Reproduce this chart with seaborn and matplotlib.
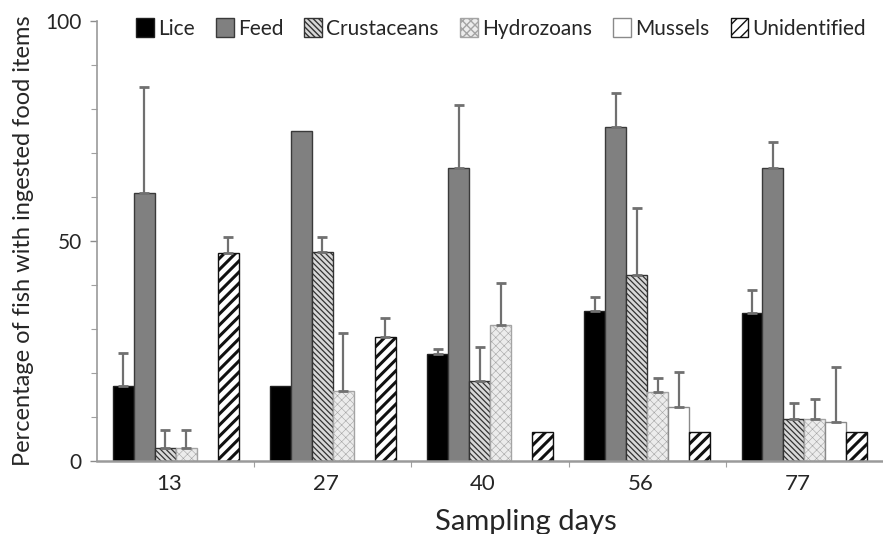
import numpy as np
import pandas as pd
import matplotlib
matplotlib.use("Agg")
import matplotlib.pyplot as plt
import matplotlib.patches as mpatches
import matplotlib.transforms as mtransforms
from matplotlib.ticker import MultipleLocator, FixedLocator
import seaborn as sns

# Sampling days and ingested food categories
days = ["13", "27", "40", "56", "77"]
items = ["Lice", "Feed", "Crustaceans", "Hydrozoans", "Mussels", "Unidentified"]

# Percentage of fish with each item (mean) and upper error
lice = [17.0, 17.0, 24.3, 34.0, 33.6]
feed = [61.0, 75.0, 66.6, 76.0, 66.6]
crustaceans = [3.0, 47.5, 18.2, 42.3, 9.5]
hydrozoans = [3.0, 16.0, 31.0, 15.7, 9.5]
mussels = [0.0, 0.0, 0.0, 12.3, 8.9]
unidentified = [47.3, 28.2, 6.6, 6.6, 6.6]

lice_err = [7.5, 0.0, 1.2, 3.3, 5.3]
feed_err = [24.0, 0.0, 14.4, 7.6, 6.0]
crustaceans_err = [4.0, 3.5, 7.8, 15.2, 3.7]
hydrozoans_err = [4.0, 13.0, 9.5, 3.2, 4.5]
mussels_err = [0.0, 0.0, 0.0, 7.9, 12.5]
unidentified_err = [3.7, 4.3, 0.0, 0.0, 0.0]

values = [lice, feed, crustaceans, hydrozoans, mussels, unidentified]
errors = [lice_err, feed_err, crustaceans_err, hydrozoans_err, mussels_err, unidentified_err]

df = pd.DataFrame(
    [(d, it, v) for it, vals in zip(items, values) for d, v in zip(days, vals)],
    columns=["day", "item", "pct"],
)

# face colour, edge/hatch colour, hatch pattern, hatch width
styles = {
    "Lice": ("#000000", "#202020", None, 1.0),
    "Feed": ("#808080", "#3a3a3a", None, 1.0),
    "Crustaceans": ("#d8d8d8", "#333333", "\\\\\\\\\\\\", 0.9),
    "Hydrozoans": ("#ececec", "#a4a4a4", "xxxx", 0.4),
    "Mussels": ("#ffffff", "#8a8a8a", None, 1.0),
    "Unidentified": ("#ffffff", "#111111", "///", 2.2),
}

sns.set_style("white")
plt.rcParams["font.family"] = ["Lato", "DejaVu Sans"]
plt.rcParams["hatch.linewidth"] = 1.0

fig = plt.figure(figsize=(8.83, 5.34), dpi=100)
ax = fig.add_axes([0.110, 0.1367, 0.890, 0.824])

sns.barplot(data=df, x="day", y="pct", hue="item", order=days, hue_order=items,
            palette=["#000000"] * 6, width=0.8, errorbar=None, legend=False, ax=ax)


def style_patch(p, item):
    fc, ec, hatch, hlw = styles[item]
    p.set_facecolor(fc)
    p.set_edgecolor(ec)
    p.set_linewidth(1.0)
    if hatch:
        p.set_hatch(hatch)
        if hasattr(p, "set_hatch_linewidth"):
            p.set_hatch_linewidth(hlw)


for item, cont, errs in zip(items, ax.containers, errors):
    xs, tops, es = [], [], []
    for bar, e in zip(cont, errs):
        style_patch(bar, item)
        if bar.get_height() == 0:
            bar.set_linewidth(0)
        if e > 0:
            xs.append(bar.get_x() + bar.get_width() / 2)
            tops.append(bar.get_height())
            es.append(e)
    if xs:
        ax.errorbar(xs, tops, yerr=[np.zeros(len(es)), es], fmt="none",
                    ecolor="#707070", elinewidth=1.6, capsize=3.5, capthick=2.0,
                    zorder=1)

# Axes
ax.set_ylim(0, 100)
ax.set_xlim(-0.5, len(days) - 0.5)
ax.set_yticks([0, 50, 100])
ax.yaxis.set_minor_locator(MultipleLocator(10))
ax.tick_params(axis="y", which="major", left=True, length=5, width=1,
               color="#8c8c8c", labelsize=15, pad=6)
ax.tick_params(axis="y", which="minor", left=True, length=4, width=0.8,
               color="#a0a0a0")
ax.set_xticks(range(len(days)))
ax.set_xticklabels(days)
ax.xaxis.set_minor_locator(FixedLocator(np.arange(0.5, len(days) - 0.5, 1)))
ax.tick_params(axis="x", which="major", bottom=False, labelsize=16, pad=6)
ax.tick_params(axis="x", which="minor", bottom=True, length=4, width=0.8,
               color="#a0a0a0")
for lab in ax.get_xticklabels():
    lab.set_transform(lab.get_transform() +
                      mtransforms.ScaledTranslation(-7 / 100, 0, fig.dpi_scale_trans))

for side in ["top", "right"]:
    ax.spines[side].set_visible(False)
ax.spines["left"].set_color("#9a9a9a")
ax.spines["left"].set_linewidth(1.2)
ax.spines["bottom"].set_color("#9a9a9a")
ax.spines["bottom"].set_linewidth(1.8)

ax.set_xlabel("Sampling days", fontsize=21)
ax.xaxis.set_label_coords(0.546, -0.11)
ax.set_ylabel("Percentage of fish with ingested food items", fontsize=17, labelpad=8)

# Legend across the top
handles = []
for item in items:
    h = mpatches.Patch(label=item)
    style_patch(h, item)
    handles.append(h)
ax.legend(handles=handles, loc="upper left", bbox_to_anchor=(0.039, 1.025),
          ncol=6, frameon=False, fontsize=15, handlelength=0.85, handleheight=1.0,
          handletextpad=0.2, columnspacing=1.02, borderaxespad=0)

fig.savefig("out.png", dpi=100)
